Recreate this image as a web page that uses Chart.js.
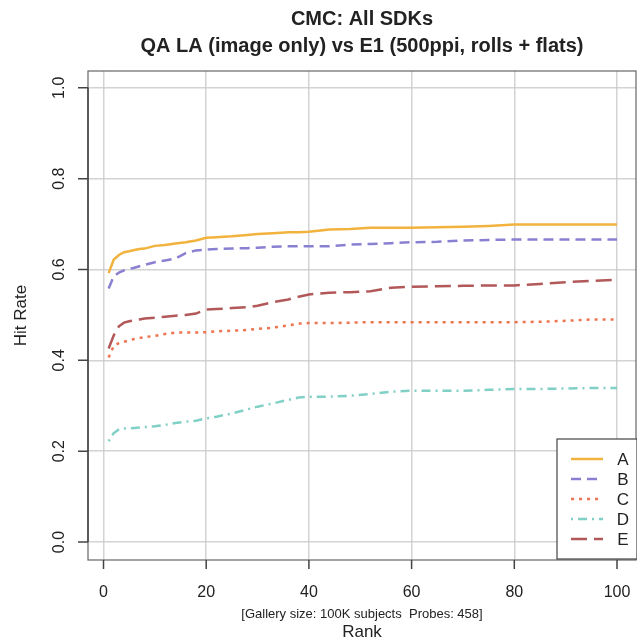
<!DOCTYPE html>
<html>
<head>
<meta charset="utf-8">
<title>CMC: All SDKs</title>
<script src="https://cdn.jsdelivr.net/npm/chart.js@4.4.1/dist/chart.umd.min.js"></script>
<style>
    html, body { margin: 0; padding: 0; background: #fff; }
    #wrap { width: 637px; height: 639px; position: relative; }
</style>
</head>
<body>
<div id="wrap"><canvas id="myChart"></canvas></div>
<script>
// ranks at which the hit rates were sampled
var ranks = [1, 2, 3, 4, 5, 6, 7, 8, 10, 12, 14, 16, 18, 20, 22, 25, 28, 30, 33, 36, 38, 40,
    44, 48, 52, 56, 60, 65, 70, 75, 80, 85, 90, 95, 100];

var seriesNames = ['A', 'B', 'C', 'D', 'E'];

var hitA = [0.592, 0.622, 0.632, 0.638, 0.640, 0.643, 0.645, 0.646, 0.652, 0.654, 0.657, 0.660, 0.664, 0.670,
    0.671, 0.673, 0.676, 0.678, 0.680, 0.682, 0.682, 0.683, 0.688, 0.689, 0.692, 0.692, 0.692, 0.693, 0.694,
    0.696, 0.699, 0.699, 0.699, 0.699, 0.699];
var hitB = [0.558, 0.585, 0.593, 0.598, 0.601, 0.604, 0.607, 0.610, 0.616, 0.620, 0.624, 0.636, 0.642, 0.644,
    0.645, 0.646, 0.647, 0.648, 0.650, 0.651, 0.651, 0.651, 0.651, 0.655, 0.656, 0.658, 0.660, 0.661, 0.664,
    0.665, 0.666, 0.666, 0.666, 0.666, 0.666];
var hitC = [0.406, 0.432, 0.438, 0.441, 0.444, 0.447, 0.449, 0.451, 0.454, 0.458, 0.461, 0.461, 0.461, 0.462,
    0.464, 0.465, 0.467, 0.469, 0.472, 0.477, 0.481, 0.482, 0.482, 0.483, 0.484, 0.484, 0.484, 0.484, 0.484,
    0.484, 0.484, 0.485, 0.487, 0.490, 0.490];
var hitD = [0.222, 0.240, 0.248, 0.250, 0.250, 0.251, 0.252, 0.253, 0.255, 0.258, 0.262, 0.265, 0.267, 0.272,
    0.276, 0.283, 0.292, 0.298, 0.305, 0.313, 0.318, 0.320, 0.320, 0.322, 0.326, 0.331, 0.333, 0.333, 0.333,
    0.335, 0.337, 0.337, 0.338, 0.339, 0.339];
var hitE = [0.426, 0.455, 0.475, 0.483, 0.486, 0.488, 0.490, 0.492, 0.494, 0.496, 0.498, 0.500, 0.503, 0.512,
    0.513, 0.515, 0.517, 0.520, 0.528, 0.534, 0.540, 0.545, 0.549, 0.550, 0.552, 0.560, 0.562, 0.563, 0.564,
    0.565, 0.565, 0.568, 0.572, 0.575, 0.577];

var xTicks = [0, 20, 40, 60, 80, 100];
var yTicks = [0, 0.2, 0.4, 0.6, 0.8, 1.0];

var titleLines = ['CMC: All SDKs', 'QA LA (image only) vs E1 (500ppi, rolls + flats)'];
var xLabel = 'Rank';
var yLabel = 'Hit Rate';
var note = '[Gallery size: 100K subjects  Probes: 458]';

var colors = ['rgb(242, 178, 62)', 'rgb(138, 128, 210)', 'rgb(238, 116, 80)', 'rgb(128, 208, 198)', 'rgb(178, 88, 88)'];
var dashes = [[], [10, 6], [3, 5], [2, 5, 9, 5], [16, 7]];

var FONT = '"Liberation Sans", Arial, sans-serif';

function toPoints(values) {
    return values.map(function (v, i) { return { x: ranks[i], y: v }; });
}

var allSeries = [hitA, hitB, hitC, hitD, hitE];
var datasets = allSeries.map(function (values, i) {
    return {
        label: seriesNames[i],
        data: toPoints(values),
        borderColor: colors[i],
        borderWidth: 2.5,
        borderDash: dashes[i],
        pointRadius: 0,
        tension: 0,
        fill: false
    };
});

// R style frame, axes, labels and legend drawn on top of the library's scales
var basePlot = {
    id: 'basePlot',
    afterDraw: function (chart) {
        var ctx = chart.ctx;
        var area = chart.chartArea;
        var xs = chart.scales.x;
        var ys = chart.scales.y;
        ctx.save();

        // box
        ctx.strokeStyle = '#666';
        ctx.lineWidth = 1.2;
        ctx.strokeRect(area.left, area.top, area.right - area.left, area.bottom - area.top);

        // y axis line and ticks
        ctx.strokeStyle = '#444';
        ctx.lineWidth = 1.5;
        ctx.beginPath();
        ctx.moveTo(area.left, ys.getPixelForValue(yTicks[0]));
        ctx.lineTo(area.left, ys.getPixelForValue(yTicks[yTicks.length - 1]));
        yTicks.forEach(function (t) {
            var py = ys.getPixelForValue(t);
            ctx.moveTo(area.left, py);
            ctx.lineTo(area.left - 10, py);
        });
        xTicks.forEach(function (t) {
            var px = xs.getPixelForValue(t);
            ctx.moveTo(px, area.bottom);
            ctx.lineTo(px, area.bottom + 9);
        });
        ctx.stroke();

        ctx.fillStyle = '#222';
        ctx.font = '16px ' + FONT;

        // x tick labels
        ctx.textAlign = 'center';
        ctx.textBaseline = 'alphabetic';
        xTicks.forEach(function (t) {
            ctx.fillText(String(t), xs.getPixelForValue(t), 597);
        });

        // y tick labels, rotated like R's default
        yTicks.forEach(function (t) {
            ctx.save();
            ctx.translate(64, ys.getPixelForValue(t));
            ctx.rotate(-Math.PI / 2);
            ctx.fillText(t.toFixed(1), 0, 0);
            ctx.restore();
        });

        // axis titles
        var midX = (area.left + area.right) / 2;
        ctx.font = '17px ' + FONT;
        ctx.fillText(xLabel, midX, 637);
        ctx.save();
        ctx.translate(26, (area.top + area.bottom) / 2);
        ctx.rotate(-Math.PI / 2);
        ctx.fillText(yLabel, 0, 0);
        ctx.restore();

        ctx.font = '13px ' + FONT;
        ctx.fillText(note, midX, 618);

        // main title
        ctx.font = 'bold 20px ' + FONT;
        ctx.fillText(titleLines[0], midX, 25);
        ctx.fillText(titleLines[1], midX, 52);

        // legend
        var lg = { left: 557, top: 439, right: 637, bottom: 559 };
        ctx.fillStyle = '#fff';
        ctx.fillRect(lg.left, lg.top, lg.right - lg.left, lg.bottom - lg.top);
        ctx.strokeStyle = '#444';
        ctx.lineWidth = 1.2;
        ctx.strokeRect(lg.left, lg.top, lg.right - lg.left, lg.bottom - lg.top);
        ctx.font = '17px ' + FONT;
        ctx.textAlign = 'center';
        ctx.textBaseline = 'middle';
        seriesNames.forEach(function (name, i) {
            var y = 459 + i * 20;
            ctx.strokeStyle = colors[i];
            ctx.lineWidth = 2.5;
            ctx.setLineDash(dashes[i]);
            ctx.beginPath();
            ctx.moveTo(571, y);
            ctx.lineTo(603, y);
            ctx.stroke();
            ctx.setLineDash([]);
            ctx.fillStyle = '#222';
            ctx.fillText(name, 623, y + 1);
        });
        ctx.restore();
    }
};

var ctx = document.getElementById('myChart').getContext('2d');
var myChart = new Chart(ctx, {
    type: 'line',
    data: { datasets: datasets },
    options: {
        responsive: true,
        maintainAspectRatio: false,
        animation: false,
        layout: { padding: { top: 71, right: 1, left: 0, bottom: 0 } },
        plugins: {
            legend: { display: false },
            title: { display: false },
            tooltip: { enabled: false }
        },
        scales: {
            x: {
                type: 'linear',
                min: -3.02,
                max: 103.7,
                afterBuildTicks: function (scale) {
                    scale.ticks = xTicks.map(function (v) { return { value: v }; });
                },
                afterFit: function (scale) { scale.height = 79; },
                ticks: { display: false },
                border: { display: false },
                grid: { color: 'rgba(200, 200, 200, 0.8)', lineWidth: 1.5, drawTicks: false }
            },
            y: {
                type: 'linear',
                min: -0.0396,
                max: 1.037,
                afterBuildTicks: function (scale) {
                    scale.ticks = yTicks.map(function (v) { return { value: v }; });
                },
                afterFit: function (scale) { scale.width = 88; },
                ticks: { display: false },
                border: { display: false },
                grid: { color: 'rgba(200, 200, 200, 0.8)', lineWidth: 1.5, drawTicks: false }
            }
        }
    },
    plugins: [basePlot]
});
</script>
</body>
</html>
